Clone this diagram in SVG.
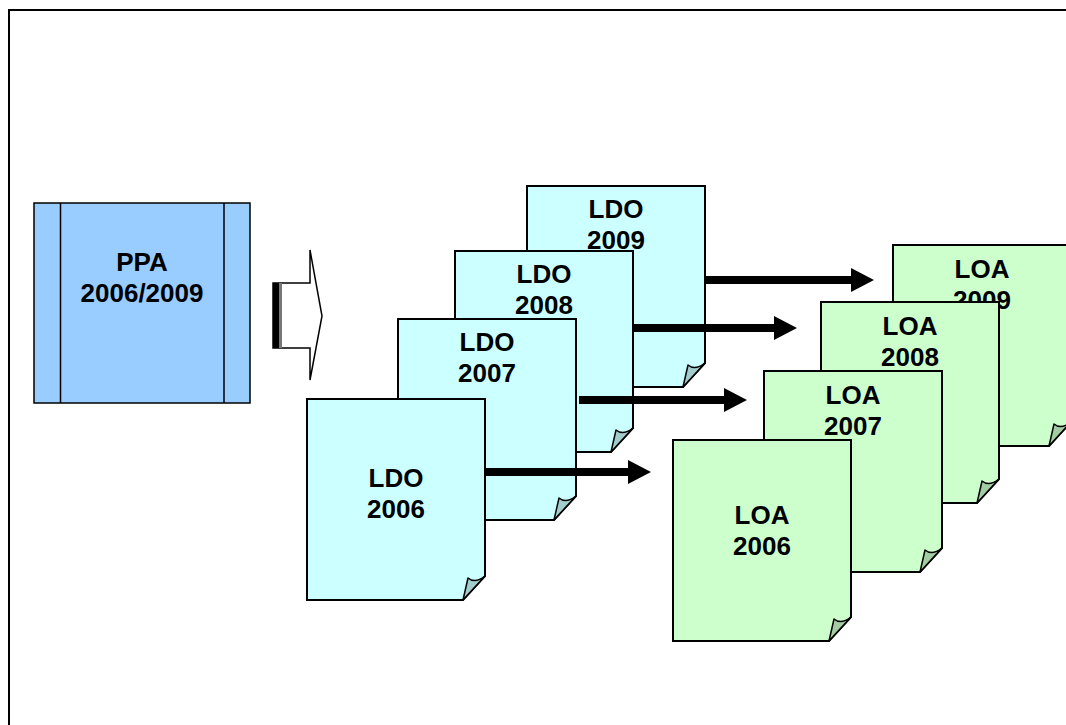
<svg xmlns="http://www.w3.org/2000/svg" xmlns:xlink="http://www.w3.org/1999/xlink" width="1066" height="725" viewBox="0 0 1066 725">
<style>
.t{font-family:"Liberation Sans",Arial,sans-serif;font-weight:bold;font-size:26px;text-anchor:middle;fill:#000}
.ldo{fill:#CCFFFF;stroke:#000;stroke-width:2}
.loa{fill:#CCFFCC;stroke:#000;stroke-width:2}
.ldoc{fill:#A3CCCC;stroke:#000;stroke-width:1.5;stroke-linejoin:round}
.loac{fill:#A3CCA3;stroke:#000;stroke-width:1.5;stroke-linejoin:round}
.conn{stroke:#000;stroke-width:8;fill:none}
</style>
<defs>
<path id="page" d="M0,0 H178 V177 L156,201 H0 Z"/>
<path id="curl" d="M156,201 L161,179 Q168,185 178,177 Z"/>
<marker id="ah" markerUnits="userSpaceOnUse" markerWidth="24" markerHeight="24" refX="0" refY="12" orient="auto">
<path d="M0,0 L23,12 L0,24 Z" fill="#000"/>
</marker>
</defs>
<rect x="9" y="10" width="1100" height="760" fill="#fff" stroke="#000" stroke-width="2"/>
<g id="ppa">
<rect x="34" y="203" width="216" height="200" fill="#99CCFF" stroke="#000" stroke-width="1.5"/>
<line x1="60.5" y1="203" x2="60.5" y2="403" stroke="#000" stroke-width="1.5"/>
<line x1="224" y1="203" x2="224" y2="403" stroke="#000" stroke-width="1.5"/>
<text class="t" x="142" y="271">PPA</text>
<text class="t" x="142" y="302">2006/2009</text>
</g>
<g id="bigarrow">
<path d="M273,283 H310 V250 L322,316 L310,380 V348 H273 Z" fill="#fff" stroke="#000" stroke-width="1.5"/>
<rect x="273" y="283" width="6" height="65" fill="#000"/>
<rect x="279" y="283" width="3" height="65" fill="#777"/>
</g>
<g id="ldo2009" transform="translate(527,186)">
<use xlink:href="#page" class="ldo"/><use xlink:href="#curl" class="ldoc"/>
<text class="t" x="89" y="32">LDO</text><text class="t" x="89" y="63">2009</text>
</g>
<g id="ldo2008" transform="translate(455,251)">
<use xlink:href="#page" class="ldo"/><use xlink:href="#curl" class="ldoc"/>
<text class="t" x="89" y="32">LDO</text><text class="t" x="89" y="63">2008</text>
</g>
<g id="ldo2007" transform="translate(398,319)">
<use xlink:href="#page" class="ldo"/><use xlink:href="#curl" class="ldoc"/>
<text class="t" x="89" y="32">LDO</text><text class="t" x="89" y="63">2007</text>
</g>
<g id="ldo2006" transform="translate(307,399)">
<use xlink:href="#page" class="ldo"/><use xlink:href="#curl" class="ldoc"/>
<text class="t" x="89" y="88">LDO</text><text class="t" x="89" y="119">2006</text>
</g>
<g id="loa2009" transform="translate(893,245)">
<use xlink:href="#page" class="loa"/><use xlink:href="#curl" class="loac"/>
<text class="t" x="89" y="33">LOA</text><text class="t" x="89" y="64">2009</text>
</g>
<g id="loa2008" transform="translate(821,302)">
<use xlink:href="#page" class="loa"/><use xlink:href="#curl" class="loac"/>
<text class="t" x="89" y="33">LOA</text><text class="t" x="89" y="64">2008</text>
</g>
<g id="loa2007" transform="translate(764,371)">
<use xlink:href="#page" class="loa"/><use xlink:href="#curl" class="loac"/>
<text class="t" x="89" y="33">LOA</text><text class="t" x="89" y="64">2007</text>
</g>
<g id="loa2006" transform="translate(673,440)">
<use xlink:href="#page" class="loa"/><use xlink:href="#curl" class="loac"/>
<text class="t" x="89" y="84">LOA</text><text class="t" x="89" y="115">2006</text>
</g>
<g id="connectors">
<line class="conn" x1="706" y1="280" x2="851" y2="280" marker-end="url(#ah)"/>
<line class="conn" x1="632" y1="328" x2="774" y2="328" marker-end="url(#ah)"/>
<line class="conn" x1="579" y1="400" x2="724" y2="400" marker-end="url(#ah)"/>
<line class="conn" x1="485" y1="472" x2="628" y2="472" marker-end="url(#ah)"/>
</g>
</svg>
